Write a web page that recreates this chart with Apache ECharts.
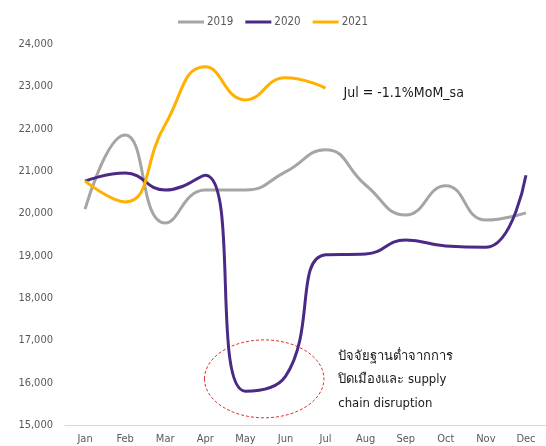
<!DOCTYPE html>
<html><head><meta charset="utf-8">
<script src="https://cdn.jsdelivr.net/npm/echarts@6/dist/echarts.min.js"></script>
<style>html,body{margin:0;padding:0;background:#fff}#c{width:546px;height:446px}</style>
</head><body><div id="c"></div>
<script>
const months = ['Jan','Feb','Mar','Apr','May','Jun','Jul','Aug','Sep','Oct','Nov','Dec'];
const s2019 = [20100,21850,19770,20550,20550,20980,21500,20670,19960,20650,19840,20010];
const s2020 = [20760,20950,20550,20900,15800,16150,19020,19040,19370,19230,19200,20900];
const s2021 = [20760,20270,22100,23460,22680,23200,22960];
const yTicks = {min:15000, max:24000, step:1000};
const noteJul = 'Jul = -1.1%MoM_sa';
const noteLock = ['ปัจจัยฐานต่ำจากการ','ปิดเมืองและ supply','chain disruption'];

const font = '"DejaVu Sans Condensed", Tahoma, "DejaVu Sans", sans-serif';
const chart = echarts.init(document.getElementById('c'));
const mk = (name, data, color) => ({
  name, type:'line', data, smooth:0.5, symbol:'none',
  lineStyle:{width:3, color}, itemStyle:{color}
});
chart.setOption({
  animation:false,
  textStyle:{fontFamily:font},
  legend:{top:11, left:'center', itemWidth:26, itemHeight:3, itemGap:12,
    icon:'rect', textStyle:{color:'#595959', fontSize:11.5, fontFamily:font, padding:[0,0,0,-2]},
    data:['2019','2020','2021']},
  grid:{left:65, right:-4, top:44, bottom:21},
  xAxis:{type:'category', data:months, boundaryGap:true,
    axisLine:{lineStyle:{color:'#d9d9d9'}}, axisTick:{show:false},
    axisLabel:{color:'#595959', fontSize:11, margin:9, fontFamily:font}},
  yAxis:{type:'value', min:yTicks.min, max:yTicks.max, interval:yTicks.step,
    splitLine:{show:false}, axisLine:{show:false}, axisTick:{show:false},
    axisLabel:{color:'#595959', fontSize:11, margin:12, fontFamily:font,
      formatter:v=>v.toLocaleString('en-US')}},
  series:[mk('2019', s2019, '#a5a5a5'), mk('2020', s2020, '#4b2a86'), mk('2021', s2021, '#ffb000')]
});
const p = (x,y)=>chart.convertToPixel({seriesIndex:0},[x,y]);
const julPt = p(6, 22960);
const x0 = p(4,0)[0], x1 = p(5,0)[0];
const y0 = p(0,16000)[1], y1 = p(0,15000)[1];
const ex = x0 + (x1-x0)*0.47, ey = p(0,16090)[1];
chart.setOption({graphic:[
  {type:'text', left:julPt[0]+18, top:julPt[1]-2, style:{text:noteJul, fill:'#1a1a1a', font:'14px '+font}},
  {type:'ellipse', shape:{cx:ex, cy:ey, rx:(x1-x0)*1.49, ry:(y1-y0)*0.92},
    style:{fill:'none', stroke:'#e0302a', lineWidth:1, lineDash:[3,2]}},
  {type:'text', left:ex+74, top:ey-34, style:{text:noteLock.join('\n'), lineHeight:23.5, fill:'#1a1a1a', font:'13px '+font}}
]});
</script></body></html>
